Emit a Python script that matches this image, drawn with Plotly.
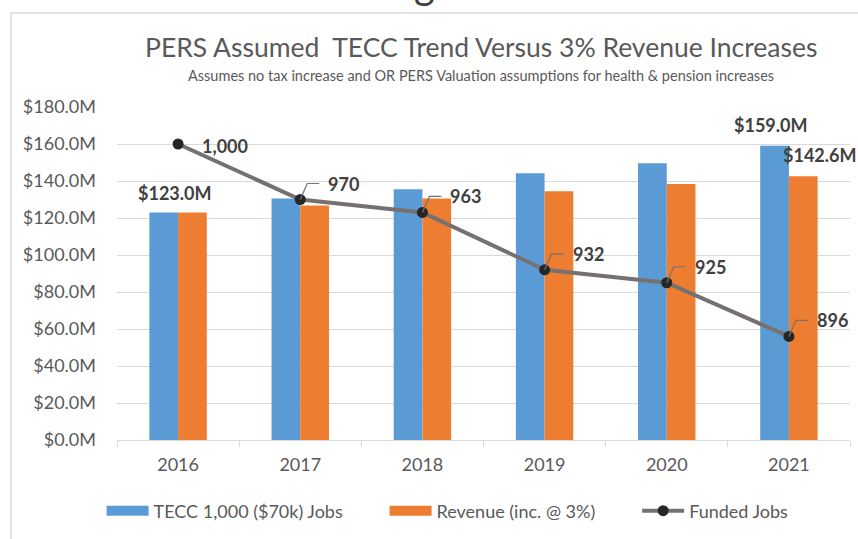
import plotly.graph_objects as go

years = ["2016", "2017", "2018", "2019", "2020", "2021"]
tecc_cost = [123.0, 130.6, 135.5, 144.2, 149.6, 159.0]
revenue = [123.0, 126.7, 130.5, 134.4, 138.4, 142.6]
funded_jobs = [1000, 970, 963, 932, 925, 896]
y_ticks = [0, 20, 40, 60, 80, 100, 120, 140, 160, 180]
y_tick_labels = ["$%.1fM" % v for v in y_ticks]

FONT = "Lato"
GREY_TXT = "#595959"
DARK_TXT = "#404040"
BLUE = "#5B9BD5"
ORANGE = "#ED7D31"
PAD = "\u00a0" * 8  # extra room between legend items

fig = go.Figure()

fig.add_trace(go.Bar(x=years, y=tecc_cost, name="TECC 1,000 ($70k) Jobs",
                     marker=dict(color=BLUE, line=dict(width=0)), showlegend=False))
fig.add_trace(go.Bar(x=years, y=revenue, name="Revenue (inc. @ 3%)",
                     marker=dict(color=ORANGE, line=dict(width=0)), showlegend=False))
fig.add_trace(go.Scatter(x=years, y=funded_jobs, name="Funded Jobs", yaxis="y2",
                         mode="lines+markers", line=dict(color="#767171", width=4),
                         marker=dict(color="#262626", size=11), showlegend=False))

# legend entries with wide rectangular swatches like the original
fig.add_trace(go.Scatter(x=[None], y=[None], mode="lines", name="TECC 1,000 ($70k) Jobs" + PAD,
                         line=dict(color=BLUE, width=14)))
fig.add_trace(go.Scatter(x=[None], y=[None], mode="lines", name="Revenue (inc. @ 3%)" + PAD,
                         line=dict(color=ORANGE, width=14)))
fig.add_trace(go.Scatter(x=[None], y=[None], mode="lines+markers", name="Funded Jobs",
                         line=dict(color="#767171", width=4),
                         marker=dict(color="#262626", size=11)))

lbl_font = dict(size=18, color=DARK_TXT)

# bar value labels (only the ones shown in the original)
fig.add_annotation(x=0, y=revenue[0], text="<b>$%.1fM</b>" % revenue[0], font=lbl_font,
                   showarrow=False, yanchor="middle", yshift=19, xshift=-3)
fig.add_annotation(x=5, y=tecc_cost[5], text="<b>$%.1fM</b>" % tecc_cost[5], font=lbl_font,
                   showarrow=False, yanchor="middle", yshift=21, xshift=-18)
fig.add_annotation(x=5, y=revenue[5], text="<b>$%.1fM</b>" % revenue[5], font=lbl_font,
                   showarrow=False, yanchor="middle", yshift=21, xshift=31)

# funded jobs labels with bent leader lines
for i, jobs in enumerate(funded_jobs):
    if i == 0:
        fig.add_annotation(x=i, y=jobs, yref="y2", text="<b>{:,}</b>".format(jobs),
                           font=lbl_font, showarrow=False, xanchor="left",
                           yanchor="middle", xshift=22, yshift=-2)
        continue
    fig.add_annotation(x=i, y=jobs, yref="y2", text="<b>{:,}</b>".format(jobs),
                       font=lbl_font, showarrow=False, xanchor="left", yanchor="middle",
                       xshift=26, yshift=16)
    fig.add_shape(type="path", xref="x", yref="y2", xanchor=i, yanchor=jobs,
                  xsizemode="pixel", ysizemode="pixel",
                  path="M0,0 L7,16 L19,16", line=dict(color="#767171", width=1.2))

# titles
fig.add_annotation(xref="paper", yref="paper", x=0.497, y=1.18, yanchor="middle",
                   text="PERS Assumed  TECC Trend Versus 3% Revenue Increases",
                   showarrow=False, font=dict(size=26.5, color=GREY_TXT))
fig.add_annotation(xref="paper", yref="paper", x=0.497, y=1.096, yanchor="middle",
                   text="Assumes no tax increase and OR PERS Valuation assumptions for health & pension increases",
                   showarrow=False, font=dict(size=14.5, color=GREY_TXT))
# fragment of a heading cut off at the top of the picture
fig.add_annotation(xref="paper", yref="paper", x=0.42, y=1.37, yanchor="middle",
                   text="g", showarrow=False, font=dict(size=40, color=DARK_TXT))

# chart frame
fig.add_shape(type="rect", xref="paper", yref="paper",
              x0=-0.1446, x1=1.2, y0=-0.5, y1=1.282,
              line=dict(color="#D9D9D9", width=1.5), layer="below")

fig.update_layout(
    width=858, height=539,
    margin=dict(l=117, r=8, t=107, b=99),
    paper_bgcolor="white", plot_bgcolor="white",
    font=dict(family=FONT, size=18, color=DARK_TXT),
    barmode="group", bargap=0.53, bargroupgap=0,
    showlegend=True,
    legend=dict(orientation="h", x=0.451, xanchor="center", y=-0.213, yanchor="middle",
                font=dict(size=18, color=GREY_TXT), itemwidth=42,
                traceorder="normal"),
    xaxis=dict(type="category", range=[-0.5, 5.5], tickson="boundaries", ticks="outside",
               ticklen=6, tickcolor="#D9D9D9", showline=True, linecolor="#D9D9D9",
               linewidth=1, showgrid=False, ticklabelstandoff=8,
               tickfont=dict(size=18, color=GREY_TXT)),
    yaxis=dict(range=[0, 180], tickvals=y_ticks, ticktext=y_tick_labels,
               showgrid=True, gridcolor="#D9D9D9", gridwidth=1, zeroline=False,
               showline=False, ticks="", ticklabelstandoff=20,
               tickfont=dict(size=18, color=GREY_TXT)),
    yaxis2=dict(range=[840, 1020], overlaying="y", side="right", visible=False),
)

fig.write_html("out.html", config={"displayModeBar": False},
               post_script="document.body.style.margin='0';")
